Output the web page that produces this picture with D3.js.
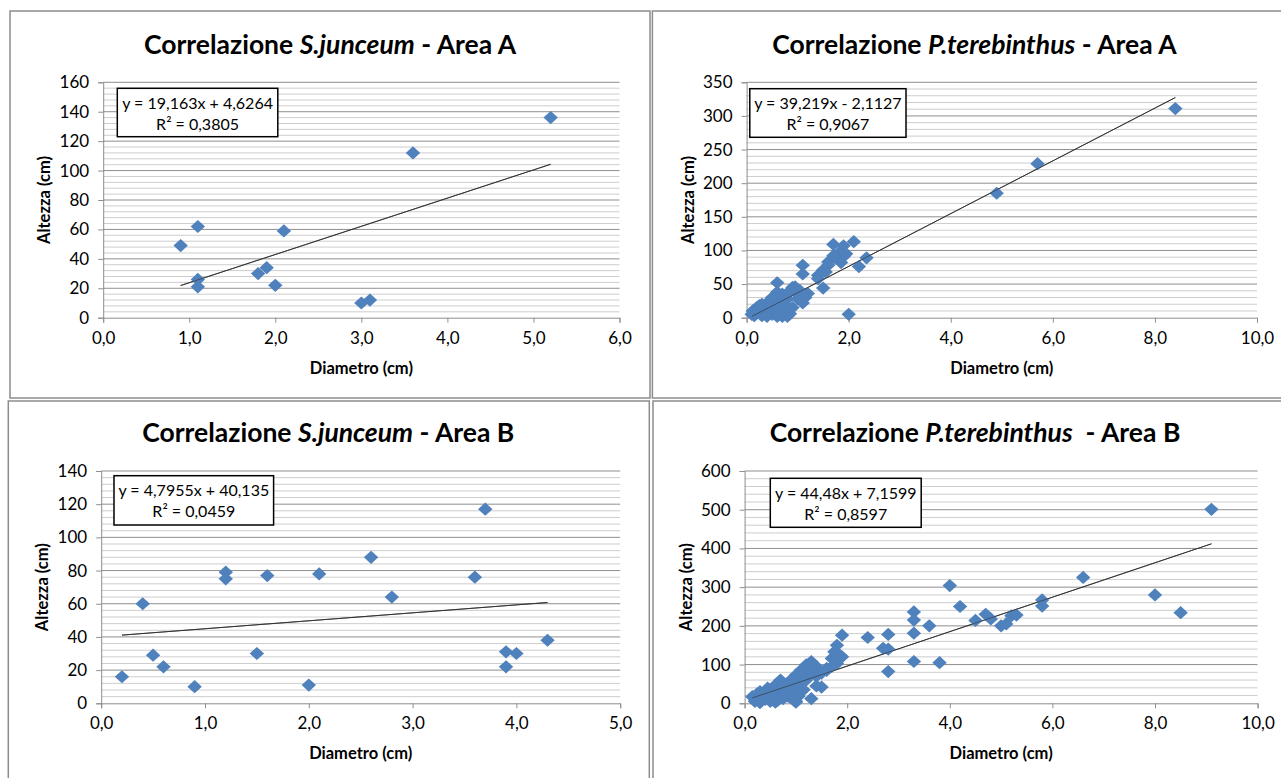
<!DOCTYPE html>
<html><head><meta charset="utf-8">
<script src="https://cdn.jsdelivr.net/npm/d3@7"></script>
<style>
body{margin:0;background:#fff}
svg{display:block}
text{font-family:Lato,"Open Sans",sans-serif;fill:#000}
</style>
</head><body>
<svg id="c" width="1281" height="778"></svg>
<script>
// ---------- DATA ----------
const titles = ["S.junceum", "P.terebinthus", "S.junceum", "P.terebinthus"];
const titleSuffix = [" - Area A", " - Area A", " - Area B", "  - Area B"];
const eqLabels = ["y = 19,163x + 4,6264", "y = 39,219x - 2,1127", "y = 4,7955x + 40,135", "y = 44,48x + 7,1599"];
const r2Labels = ["R² = 0,3805", "R² = 0,9067", "R² = 0,0459", "R² = 0,8597"];
const trendSlope = [19.163, 39.219, 4.7955, 44.48];
const trendIntercept = [4.6264, -2.1127, 40.135, 7.1599];
const xMax = [6, 10, 5, 10];
const xStep = [1, 2, 1, 2];
const yMax = [160, 350, 140, 600];
const yStep = [20, 50, 20, 100];

// S.junceum - Area A
const sjA_diam = [0.9, 1.1, 1.1, 1.1, 1.8, 1.9, 2.0, 2.1, 3.0, 3.1, 3.6, 5.2];
const sjA_alt  = [49, 62, 26, 21, 30, 34, 22, 59, 10, 12, 112, 136];

// P.terebinthus - Area A
const ptA_diam = [8.4, 5.7, 4.9, 2.0, 2.1, 1.7, 1.9, 2.35, 2.2, 1.1, 1.1, 1.5, 0.6, 0.95,
  1.8, 1.9, 1.95, 1.6, 1.6, 1.5, 1.4, 1.4, 1.75, 1.85, 1.7, 1.55,
  0.6, 0.65, 0.7, 0.8, 0.85, 0.9, 1.0, 1.0, 1.1, 1.05, 1.2, 1.15, 0.75,
  0.1, 0.12, 0.15, 0.2, 0.2, 0.25, 0.25, 0.3, 0.3, 0.35, 0.35, 0.4, 0.4, 0.45, 0.45,
  0.5, 0.5, 0.55, 0.6, 0.6, 0.65, 0.7, 0.7, 0.75, 0.8, 0.85, 0.9, 0.55, 0.5, 0.8];
const ptA_alt = [311, 229, 185, 5, 113, 109, 107, 89, 76, 78, 65, 44, 52, 46,
  96, 91, 95, 83, 78, 71, 63, 58, 88, 82, 92, 68,
  38, 30, 35, 28, 40, 45, 35, 28, 22, 40, 36, 30, 20,
  5, 10, 3, 15, 8, 12, 18, 3, 20, 8, 15, 22, 2, 12, 18,
  5, 20, 10, 15, 2, 22, 8, 2, 12, 2, 6, 15, 25, 30, 15];

// S.junceum - Area B
const sjB_diam = [0.2, 0.4, 0.5, 0.6, 0.9, 1.2, 1.2, 1.5, 1.6, 2.0, 2.1, 2.6, 2.8, 3.6, 3.7, 3.9, 3.9, 4.0, 4.3];
const sjB_alt  = [16, 60, 29, 22, 10, 79, 75, 30, 77, 11, 78, 88, 64, 76, 117, 31, 22, 30, 38];

// P.terebinthus - Area B
const ptB_diam = [9.1, 6.6, 8.0, 8.5, 5.8, 5.8, 4.0, 4.2, 4.7, 4.5, 4.8, 5.0, 5.1, 5.2, 5.3,
  3.3, 3.3, 3.3, 3.3, 3.6, 3.8, 2.8, 2.8, 2.4, 2.7, 2.8, 1.9,
  1.8, 1.75, 1.85, 1.7, 1.8, 1.6, 1.5, 1.3, 1.2, 1.1, 1.0, 0.9, 0.85, 0.7, 0.6, 0.45, 0.3, 0.15, 0.2,
  1.4, 1.5, 1.3, 1.0, 0.3, 0.5, 0.6, 1.0,
  0.3, 0.4, 0.5, 0.5, 0.6, 0.7, 0.7, 0.8, 0.8, 0.9, 0.9, 1.0, 1.0, 1.1, 1.1, 1.2, 1.2, 1.3, 1.3,
  1.4, 1.4, 1.3, 1.2, 1.1, 1.0, 0.9, 0.6, 0.4, 0.2, 0.25, 0.35, 0.45, 0.55, 0.65, 0.75, 0.85,
  0.95, 1.05, 1.15, 1.6, 1.7, 1.8, 1.9];
const ptB_alt = [501, 325, 280, 234, 267, 251, 304, 250, 230, 214, 218, 200, 205, 226, 228,
  236, 215, 181, 108, 200, 105, 178, 82, 170, 142, 140, 176,
  150, 133, 125, 116, 103, 90, 78, 108, 99, 86, 73, 60, 52, 60, 47, 39, 30, 17, 12,
  45, 42, 12, 5, 2, 5, 3, 3,
  20, 25, 35, 20, 28, 40, 22, 30, 45, 35, 20, 40, 25, 50, 30, 60, 75, 90, 80,
  95, 70, 100, 90, 70, 55, 45, 15, 10, 5, 25, 15, 20, 12, 8, 12, 18,
  10, 18, 35, 85, 95, 115, 120];

const seriesX = [sjA_diam, ptA_diam, sjB_diam, ptB_diam];
const seriesY = [sjA_alt, ptA_alt, sjB_alt, ptB_alt];

// ---------- LAYOUT ----------
const layout = [
  {bx: 10, by: 11, bw: 640, bh: 387, px0: 103.2, px1: 619.5, py0: 317.7, py1: 82.3, box: [117.3, 88.3, 160.5, 48.4], titleY: 54},
  {bx: 652.4, by: 11, bw: 660, bh: 387, px0: 746.6, px1: 1257, py0: 317.7, py1: 82.3, box: [749.8, 88.7, 156.2, 48.6], titleY: 54},
  {bx: 8.3, by: 401, bw: 641, bh: 400, px0: 101.2, px1: 620.2, py0: 703.3, py1: 471, box: [114, 475.7, 159.6, 49.3], titleY: 442},
  {bx: 653, by: 401, bw: 660, bh: 400, px0: 744.6, px1: 1257.6, py0: 703.3, py1: 471, box: [770.3, 478.3, 150.9, 49], titleY: 442}
];

const svg = d3.select("#c");
const fmt = d => d3.format(".1f")(d).replace(".", ",");

layout.forEach((L, i) => {
  const g = svg.append("g");
  g.append("rect").attr("x", L.bx).attr("y", L.by).attr("width", L.bw).attr("height", L.bh)
    .attr("fill", "#fff").attr("stroke", "#8c8c8c").attr("stroke-width", 1.5);

  const x = d3.scaleLinear().domain([0, xMax[i]]).range([L.px0, L.px1]);
  const y = d3.scaleLinear().domain([0, yMax[i]]).range([L.py0, L.py1]);

  const minorStep = yStep[i] / 5;
  const minors = d3.range(0, yMax[i] + 1e-9, minorStep).filter(v => Math.abs(v / yStep[i] - Math.round(v / yStep[i])) > 1e-6);
  g.append("g").selectAll("line").data(minors).join("line")
    .attr("x1", L.px0).attr("x2", L.px1).attr("y1", d => y(d)).attr("y2", d => y(d))
    .attr("stroke", "#cdcdcd").attr("stroke-width", 1);
  const majors = d3.range(yStep[i], yMax[i] + 1e-9, yStep[i]);
  g.append("g").selectAll("line").data(majors).join("line")
    .attr("x1", L.px0).attr("x2", L.px1).attr("y1", d => y(d)).attr("y2", d => y(d))
    .attr("stroke", "#8e8e8e").attr("stroke-width", 1);

  const yAxis = d3.axisLeft(y).tickValues(d3.range(0, yMax[i] + 1e-9, yStep[i]))
    .tickSize(5).tickPadding(9).tickFormat(d3.format("d"));
  const xAxis = d3.axisBottom(x).tickValues(d3.range(0, xMax[i] + 1e-9, xStep[i]))
    .tickSize(5).tickPadding(9).tickFormat(fmt);
  const ya = g.append("g").attr("transform", `translate(${L.px0},0)`).call(yAxis);
  const xa = g.append("g").attr("transform", `translate(0,${L.py0})`).call(xAxis);
  [ya, xa].forEach(a => {
    a.select(".domain").attr("stroke", "#8e8e8e");
    a.selectAll(".tick line").attr("stroke", "#8e8e8e");
    a.selectAll("text").attr("font-size", 17).attr("font-family", "Lato").attr("fill", "#222");
  });

  const xs = seriesX[i];
  const xmin = d3.min(xs), xmaxd = d3.max(xs);
  const trend = () => g.append("line")
    .attr("x1", x(xmin)).attr("y1", y(trendSlope[i] * xmin + trendIntercept[i]))
    .attr("x2", x(xmaxd)).attr("y2", y(trendSlope[i] * xmaxd + trendIntercept[i]))
    .attr("stroke", "#333").attr("stroke-width", 1);
  trend();

  const pts = xs.map((d, k) => [d, seriesY[i][k]]);
  const rx = 7.2, ry = 6.6;
  g.append("g").selectAll("path").data(pts).join("path")
    .attr("d", d => {
      const cx = x(d[0]), cy = y(d[1]);
      return `M${cx},${cy - ry}L${cx + rx},${cy}L${cx},${cy + ry}L${cx - rx},${cy}Z`;
    })
    .attr("fill", "#4f81bd");

  trend().attr("stroke-width", 0.8).attr("opacity", 0.8);

  const [bx, by, bw, bh] = L.box;
  g.append("rect").attr("x", bx).attr("y", by).attr("width", bw).attr("height", bh)
    .attr("fill", "#fff").attr("stroke", "#000").attr("stroke-width", 1.5);
  g.append("text").attr("x", bx + bw / 2).attr("y", by + 20.5).attr("text-anchor", "middle")
    .attr("font-size", 16).text(eqLabels[i]);
  g.append("text").attr("x", bx + bw / 2).attr("y", by + 41.5).attr("text-anchor", "middle")
    .attr("font-size", 16).text(r2Labels[i]);

  const t = g.append("text").attr("x", L.bx + (i % 2 === 0 ? 320 : 322)).attr("y", L.titleY)
    .attr("text-anchor", "middle").attr("font-size", 26.5).attr("font-weight", "bold")
    .style("white-space", "pre");
  t.append("tspan").text("Correlazione ");
  t.append("tspan").attr("font-style", "italic").text(titles[i]);
  t.append("tspan").text(titleSuffix[i]);

  g.append("text").attr("x", (L.px0 + L.px1) / 2).attr("y", L.py0 + 56)
    .attr("text-anchor", "middle").attr("font-size", 16.5).attr("font-weight", "bold").text("Diametro (cm)");
  g.append("text").attr("transform", `translate(${L.px0 - 53},${(L.py0 + L.py1) / 2}) rotate(-90)`)
    .attr("text-anchor", "middle").attr("font-size", 16.5).attr("font-weight", "bold").text("Altezza (cm)");
});
</script>
</body></html>
